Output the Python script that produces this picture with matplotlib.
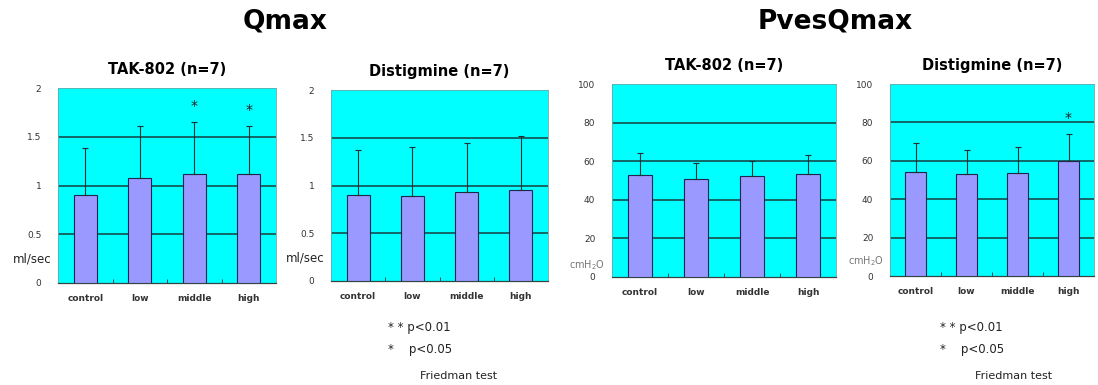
import numpy as np
import matplotlib.pyplot as plt

groups = ['control', 'low', 'middle', 'high']

# Qmax (ml/sec)
qmax_tak = [0.90, 1.08, 1.12, 1.12]
qmax_tak_err = [0.48, 0.53, 0.53, 0.49]
qmax_tak_sig = ['', '', '*', '*']
qmax_dis = [0.90, 0.89, 0.93, 0.95]
qmax_dis_err = [0.47, 0.51, 0.51, 0.57]
qmax_dis_sig = ['', '', '', '']

# PvesQmax (cmH2O)
pves_tak = [52.7, 51.0, 52.2, 53.2]
pves_tak_err = [11.4, 8.0, 8.1, 10.1]
pves_tak_sig = ['', '', '', '']
pves_dis = [54.1, 53.0, 53.7, 59.8]
pves_dis_err = [15.1, 12.7, 13.4, 14.2]
pves_dis_sig = ['', '', '', '*']

W, H = 1098, 385
fig = plt.figure(figsize=(W / 100, H / 100), dpi=100)

def px_axes(x0, y0, x1, y1):
    return fig.add_axes([x0 / W, 1 - y1 / H, (x1 - x0) / W, (y1 - y0) / H])

def panel(ax, vals, errs, sig, ymax, step, title, unit, unit_y, unit_kw):
    x = np.arange(len(groups))
    ax.set_facecolor('#00ffff')
    ax.bar(x, vals, width=0.42, color='#9999ff', edgecolor='#232350', linewidth=0.8, zorder=3)
    ax.errorbar(x, vals, yerr=[np.zeros(len(vals)), errs], fmt='none', ecolor='#203030',
                elinewidth=0.8, capsize=2, capthick=0.8, zorder=4)
    for xi, v, e, s in zip(x, vals, errs, sig):
        if s:
            ax.text(xi, v + e + ymax * 0.045, s, ha='center', va='bottom', fontsize=10,
                    color='#222222', zorder=5)
    ax.set_xlim(-0.5, len(groups) - 0.5)
    ax.set_ylim(0, ymax)
    ticks = np.arange(0, ymax + step / 2, step)
    ax.set_yticks(ticks)
    ax.set_yticklabels(['%g' % t for t in ticks], fontsize=6.5, color='#333333')
    for t in ticks[1:-1]:
        ax.axhline(t, color='#173f3f', linewidth=1.1, zorder=1)
    ax.set_xticks(x)
    ax.set_xticklabels(groups, fontsize=6.5, fontweight='bold', color='#333333')
    ax.set_xticks(x[:-1] + 0.5, minor=True)
    ax.tick_params(axis='x', which='major', length=0, pad=8)
    ax.tick_params(axis='x', which='minor', length=3, direction='in', color='#333333')
    ax.tick_params(axis='y', length=0, pad=12)
    for side in ['top', 'right', 'left']:
        ax.spines[side].set_color('#66aaaa')
        ax.spines[side].set_linewidth(0.6)
    ax.spines['bottom'].set_color('#334444')
    ax.spines['bottom'].set_linewidth(0.9)
    ax.set_title(title, fontsize=10.5, fontweight='bold', pad=10)
    ax.text(-0.03, unit_y, unit, transform=ax.transAxes, ha='right', va='center', **unit_kw)

ml_kw = dict(fontsize=8.5, color='#222222')
cm_kw = dict(fontsize=7, color='#777777')

ax1 = px_axes(58, 88, 276, 283)
panel(ax1, qmax_tak, qmax_tak_err, qmax_tak_sig, 2, 0.5, 'TAK-802 (n=7)', 'ml/sec', 0.125, ml_kw)
ax2 = px_axes(331, 90, 548, 281)
panel(ax2, qmax_dis, qmax_dis_err, qmax_dis_sig, 2, 0.5, 'Distigmine (n=7)', 'ml/sec', 0.12, ml_kw)
ax3 = px_axes(612, 84, 836, 277)
panel(ax3, pves_tak, pves_tak_err, pves_tak_sig, 100, 20, 'TAK-802 (n=7)', 'cmH$_2$O', 0.06, cm_kw)
ax4 = px_axes(890, 84, 1094, 276)
panel(ax4, pves_dis, pves_dis_err, pves_dis_sig, 100, 20, 'Distigmine (n=7)', 'cmH$_2$O', 0.075, cm_kw)

fig.text(285 / W, 1 - 22 / H, 'Qmax', ha='center', va='center', fontsize=19, fontweight='bold')
fig.text(835 / W, 1 - 22 / H, 'PvesQmax', ha='center', va='center', fontsize=19, fontweight='bold')

for lx, fx in [(388, 420), (940, 975)]:
    fig.text(lx / W, 1 - 327 / H, '* * p<0.01', ha='left', va='center', fontsize=8.5, color='#222222')
    fig.text(lx / W, 1 - 349 / H, '*    p<0.05', ha='left', va='center', fontsize=8.5, color='#222222')
    fig.text(fx / W, 1 - 376 / H, 'Friedman test', ha='left', va='center', fontsize=8, color='#222222')

fig.savefig('out.png', dpi=100)
